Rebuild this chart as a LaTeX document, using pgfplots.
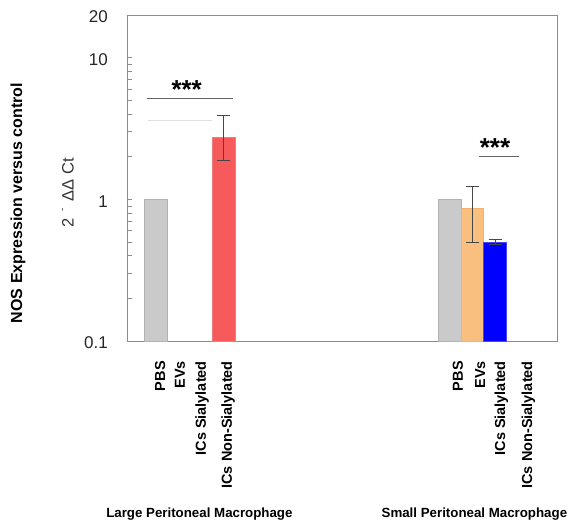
\documentclass[border=0pt]{standalone}
\usepackage{pgfplots}
\pgfplotsset{compat=1.18}
\usepackage{fontspec}
\setmainfont{Liberation Sans}

\definecolor{framegray}{RGB}{140,140,140}
\definecolor{pbsfill}{RGB}{202,202,202}
\definecolor{pbsedge}{RGB}{178,178,178}
\definecolor{redfill}{RGB}{246,90,90}
\definecolor{rededge}{RGB}{240,125,125}
\definecolor{orangefill}{RGB}{249,191,126}
\definecolor{orangeedge}{RGB}{244,178,110}
\definecolor{bluefill}{RGB}{0,0,255}
\definecolor{blueedge}{RGB}{70,70,255}
\definecolor{errgray}{RGB}{70,70,70}
\definecolor{siggray}{RGB}{100,100,100}

\begin{document}
\begin{tikzpicture}
\begin{axis}[
  scale only axis,
  width=430pt, height=326pt,
  ymode=log,
  ymin=0.1, ymax=20,
  xmin=-0.28, xmax=18.74,
  log origin y=infty,
  clip=false,
  axis line style={draw=framegray, line width=0.8pt},
  tick align=inside,
  ytick pos=left,
  ytick={0.1,1,10,20},
  yticklabels={0.1,1,10,20},
  minor ytick={0.2,0.3,0.4,0.5,0.6,0.7,0.8,0.9,2,3,4,5,6,7,8,9},
  major tick length=5pt,
  minor tick length=5pt,
  every tick/.style={draw=framegray, line width=0.6pt},
  /pgf/number format/assume math mode=true,
  yticklabel style={font=\fontsize{17}{17}\selectfont, text=black!85,
    anchor=east, inner sep=0pt, xshift=-19pt, yshift=-2pt},
  xtick={1.18,2.06,2.99,4.14,14.36,15.34,16.22,17.42},
  xticklabels={PBS,EVs,ICs Sialylated,ICs Non-Sialylated,
               PBS,EVs,ICs Sialylated,ICs Non-Sialylated},
  major x tick style={draw=none},
  xticklabel style={rotate=90, anchor=east, inner xsep=20pt, inner ysep=0pt,
    text height=10pt, text depth=0pt,
    font=\bfseries\fontsize{14.5}{14.5}\selectfont},
  error bars/error bar style={draw=errgray, line width=0.7pt},
  error bars/error mark options={rotate=90, mark size=6.5pt, draw=errgray, line width=0.7pt},
]

% PBS controls (both macrophage populations)
\addplot[ybar, bar width=1, bar shift=0pt, fill=pbsfill, draw=pbsedge, line width=0.8pt]
  coordinates {(1,1) (14,1)};

% ICs Non-Sialylated, large peritoneal macrophage
\addplot[ybar, bar width=1, bar shift=0pt, fill=redfill, draw=rededge, line width=0.8pt,
  error bars/.cd, y dir=both, y explicit]
  coordinates {(4,2.74) += (0,1.20) -= (0,0.85)};

% EVs, small peritoneal macrophage
\addplot[ybar, bar width=1, bar shift=0pt, fill=orangefill, draw=orangeedge, line width=0.8pt,
  error bars/.cd, y dir=both, y explicit]
  coordinates {(15,0.864) += (0,0.363) -= (0,0.364)};

% ICs Sialylated, small peritoneal macrophage
\addplot[ybar, bar width=1, bar shift=0pt, fill=bluefill, draw=blueedge, line width=0.8pt,
  error bars/.cd, y dir=both, y explicit]
  coordinates {(16,0.50) += (0,0.025) -= (0,0.019)};

% significance brackets
\draw[gray!25, line width=0.6pt] (axis cs:0.65,3.63) -- (axis cs:3.48,3.63);
\draw[siggray, line width=0.9pt] (axis cs:0.59,5.16) -- (axis cs:4.41,5.16);
\node[font=\bfseries\fontsize{26}{26}\selectfont, inner sep=0pt, anchor=center]
  at (axis cs:2.36,5.95) {***};
\draw[siggray, line width=1.2pt] (axis cs:15.29,2.0) -- (axis cs:17.06,2.0);
\node[font=\bfseries\fontsize{26}{26}\selectfont, inner sep=0pt, anchor=center]
  at (axis cs:16.0,2.32) {***};
\end{axis}

% axis titles
\node[rotate=90, font=\bfseries\fontsize{16}{16}\selectfont, inner sep=0pt]
  at (-109pt,138pt) {NOS Expression versus control};
\node[rotate=90, font=\fontsize{16.5}{16.5}\selectfont, text=black!80, inner sep=0pt]
  at (-59pt,148.5pt) {2\hspace{6pt}\raisebox{0.5em}{\fontsize{10}{10}\selectfont -}\hspace{7pt}ΔΔ\hspace{5pt}Ct};

% group captions
\node[font=\bfseries\fontsize{13.3}{13.3}\selectfont, inner sep=0pt]
  at (72.4pt,-173pt) {Large Peritoneal Macrophage};
\node[font=\bfseries\fontsize{13.3}{13.3}\selectfont, inner sep=0pt]
  at (347.4pt,-173pt) {Small Peritoneal Macrophage};

\path[use as bounding box] (-127pt,-183pt) rectangle (444pt,341pt);
\end{tikzpicture}
\end{document}
